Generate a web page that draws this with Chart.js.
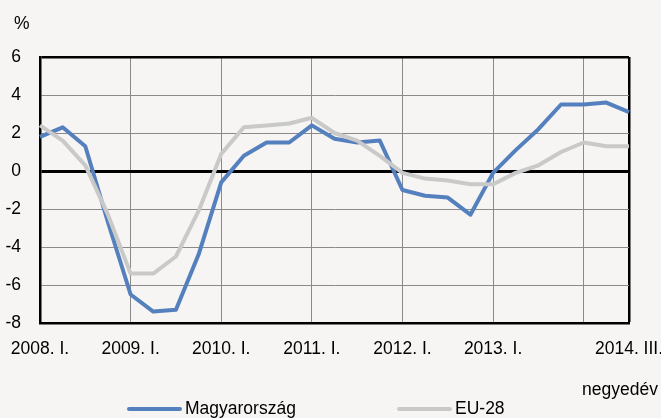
<!DOCTYPE html>
<html>
<head>
<meta charset="utf-8">
<script src="https://cdn.jsdelivr.net/npm/chart.js@4"></script>
<style>
html,body{margin:0;padding:0;background:#f6f5f3;}
#wrap{width:661px;height:418px;position:relative;}
</style>
</head>
<body>
<div id="wrap"><canvas id="c" width="661" height="418"></canvas></div>
<script>
const categories = ["2008. I.","II.","III.","IV.","2009. I.","II.","III.","IV.","2010. I.","II.","III.","IV.","2011. I.","II.","III.","IV.","2012. I.","II.","III.","IV.","2013. I.","II.","III.","IV.","2014. I.","II.","2014. III."];
const shownLabels = ["2008. I.","2009. I.","2010. I.","2011. I.","2012. I.","2013. I.","2014. III."];
const hungary = [1.8, 2.3, 1.3, -2.7, -6.5, -7.4, -7.3, -4.4, -0.6, 0.8, 1.5, 1.5, 2.4, 1.7, 1.5, 1.6, -1.0, -1.3, -1.4, -2.3, -0.1, 1.1, 2.2, 3.5, 3.5, 3.6, 3.1];
const eu28 = [2.4, 1.6, 0.3, -2.3, -5.4, -5.4, -4.5, -2.1, 0.9, 2.3, 2.4, 2.5, 2.8, 2.0, 1.6, 0.8, -0.1, -0.4, -0.5, -0.7, -0.7, -0.1, 0.3, 1.0, 1.5, 1.3, 1.3];
const seriesNames = ["Magyarország", "EU-28"];
const yUnit = "%";
const xUnit = "negyedév";

const FONT = "'Liberation Sans', Arial, sans-serif";
const FS = 17.5;
const BLUE = '#5580be';
const GRAY = '#c9c9c9';
const GRID = '#8a8a8a';

const decor = {
  id: 'decor',
  beforeDraw(chart) {
    const ctx = chart.ctx;
    ctx.save();
    ctx.fillStyle = '#f6f5f3';
    ctx.fillRect(0, 0, chart.width, chart.height);
    ctx.restore();
  },
  afterDraw(chart) {
    const ctx = chart.ctx;
    ctx.save();
    ctx.font = FS + 'px ' + FONT;
    ctx.fillStyle = '#000';
    ctx.textBaseline = 'alphabetic';
    ctx.textAlign = 'left';
    ctx.fillText(yUnit, 14, 29);
    ctx.textAlign = 'right';
    ctx.fillText(xUnit, 658, 395);
    const items = [
      {x: 127, color: BLUE, text: seriesNames[0]},
      {x: 397, color: GRAY, text: seriesNames[1]}
    ];
    items.forEach(it => {
      ctx.strokeStyle = it.color;
      ctx.lineWidth = 4;
      ctx.lineCap = 'round';
      ctx.beginPath();
      ctx.moveTo(it.x + 2, 409);
      ctx.lineTo(it.x + 53, 409);
      ctx.stroke();
      ctx.textAlign = 'left';
      ctx.textBaseline = 'middle';
      ctx.fillStyle = '#000';
      ctx.fillText(it.text, it.x + 58, 409);
    });
    ctx.restore();
  }
};

new Chart(document.getElementById('c'), {
  type: 'line',
  data: {
    labels: categories,
    datasets: [
      {label: seriesNames[0], data: hungary, borderColor: BLUE, borderWidth: 4, pointRadius: 0, tension: 0, order: 1, borderJoinStyle: 'round'},
      {label: seriesNames[1], data: eu28, borderColor: GRAY, borderWidth: 4, pointRadius: 0, tension: 0, order: 0, borderJoinStyle: 'round'}
    ]
  },
  options: {
    responsive: false,
    animation: false,
    events: [],
    layout: {padding: {left: 0, right: 32, top: 57, bottom: 0}},
    plugins: {legend: {display: false}, tooltip: {enabled: false}},
    scales: {
      x: {
        type: 'category',
        offset: false,
        afterFit(s) { s.height = 95; s.paddingLeft = 0; s.paddingRight = 0; },
        grid: {
          drawTicks: false,
          color(ctx) {
            const i = ctx.index;
            if (i === categories.length - 1) return '#000';
            if (i % 4 === 0 && i !== 0) return GRID;
            return 'rgba(0,0,0,0)';
          },
          lineWidth(ctx) { return ctx.index === categories.length - 1 ? 2.5 : 1; }
        },
        border: {display: true, color: '#000', width: 2.5},
        ticks: {
          autoSkip: false,
          maxRotation: 0,
          padding: 16,
          color: '#000',
          font: {family: FONT, size: FS},
          callback(v, i) {
            const l = categories[i];
            return shownLabels.includes(l) ? l : '';
          }
        }
      },
      y: {
        min: -8,
        max: 6,
        afterFit(s) { s.width = 40; s.paddingTop = 0; s.paddingBottom = 0; },
        grid: {
          drawTicks: false,
          color(ctx) {
            const v = ctx.tick.value;
            if (v === 0 || v === 6) return '#000';
            return GRID;
          },
          lineWidth(ctx) {
            const v = ctx.tick.value;
            if (v === 0) return 3;
            if (v === 6) return 2.5;
            return 1;
          }
        },
        border: {display: true, color: '#000', width: 2.5},
        ticks: {
          stepSize: 2,
          padding: 19,
          color: '#000',
          font: {family: FONT, size: FS}
        }
      }
    }
  },
  plugins: [decor]
});
</script>
</body>
</html>
